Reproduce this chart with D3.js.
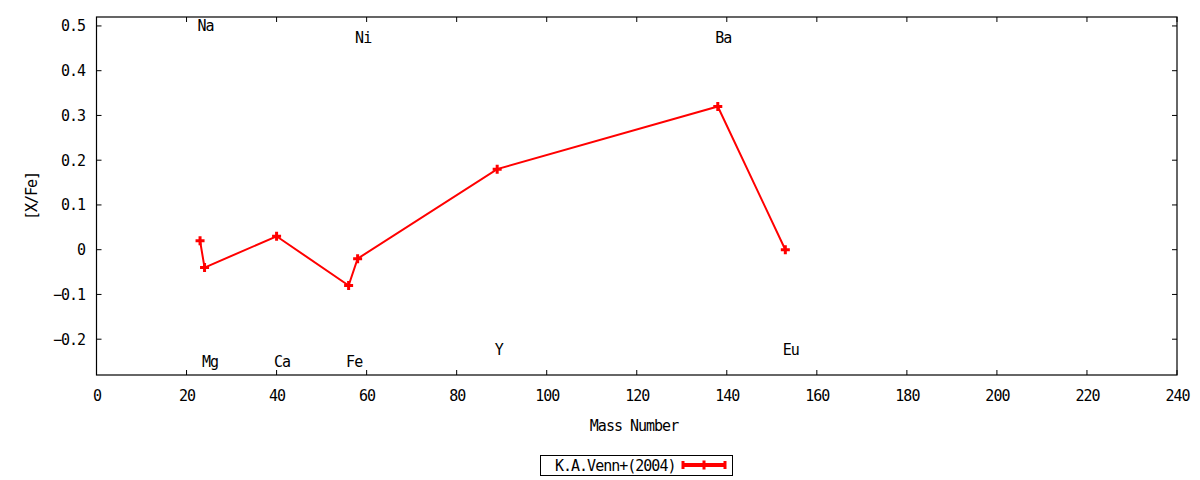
<!DOCTYPE html>
<html><head><meta charset="utf-8">
<script src="https://cdn.jsdelivr.net/npm/d3@7"></script>
<style>
body{margin:0;background:#fff;}
text{font-family:"DejaVu Sans Mono",monospace;font-size:15px;letter-spacing:-1px;fill:#000;}
</style></head>
<body><svg id="c" width="1200" height="480"></svg>
<script>
const elements = ["Na","Mg","Ca","Fe","Ni","Y","Ba","Eu"];
const massNumbers = [23,24,40,56,58,89,138,153];
const xFe = [0.02,-0.04,0.03,-0.08,-0.02,0.18,0.32,0.0];
const labelY = [0.5,-0.25,-0.25,-0.25,0.475,-0.222,0.475,-0.222];
const xTicks = [0,20,40,60,80,100,120,140,160,180,200,220,240];
const yTicks = [-0.2,-0.1,0,0.1,0.2,0.3,0.4,0.5];
const seriesName = "K.A.Venn+(2004)";

const svg = d3.select("#c");
const L=96.5,R=1177,T=17,B=375;
const x = d3.scaleLinear().domain([0,240]).range([L,R]);
const y = d3.scaleLinear().domain([-0.28,0.52]).range([B,T]);
const tl = 5;

svg.append("rect").attr("x",L).attr("y",T).attr("width",R-L).attr("height",B-T)
  .attr("fill","none").attr("stroke","#000").attr("stroke-width",1.2);

const g = svg.append("g");
xTicks.forEach(v=>{
  const px=x(v);
  g.append("line").attr("x1",px).attr("x2",px).attr("y1",B).attr("y2",B-tl).attr("stroke","#000");
  g.append("line").attr("x1",px).attr("x2",px).attr("y1",T).attr("y2",T+tl).attr("stroke","#000");
  g.append("text").attr("x",px+0.5).attr("y",400.5).attr("text-anchor","middle").text(v);
});
const yFmt = v => (Math.abs(v)<1e-9?"0":d3.format(".1f")(v));
yTicks.forEach(v=>{
  const py=y(v);
  g.append("line").attr("x1",L).attr("x2",L+tl).attr("y1",py).attr("y2",py).attr("stroke","#000");
  g.append("line").attr("x1",R).attr("x2",R-tl).attr("y1",py).attr("y2",py).attr("stroke","#000");
  g.append("text").attr("x",85).attr("y",py+5.5).attr("text-anchor","end").text(yFmt(v));
});

svg.append("text").attr("x",634).attr("y",430.5).attr("text-anchor","middle").text("Mass Number");
svg.append("text").attr("transform","translate(37,196) rotate(-90)").attr("text-anchor","middle").text("[X/Fe]");

elements.forEach((e,i)=>{
  svg.append("text").attr("x",x(massNumbers[i])-2.5).attr("y",y(labelY[i])+5.5).text(e);
});

const red="#ff0000";
const pts = massNumbers.map((m,i)=>[m,xFe[i]]);
svg.append("path").datum(pts)
  .attr("d",d3.line().x(d=>x(d[0])).y(d=>y(d[1])))
  .attr("fill","none").attr("stroke",red).attr("stroke-width",2);

const plus = (px,py,s)=>`M${px-s},${py}H${px+s}M${px},${py-s}V${py+s}`;
svg.selectAll(".m").data(pts).enter().append("path")
  .attr("d",d=>plus(x(d[0]),y(d[1]),4.5))
  .attr("stroke",red).attr("stroke-width",3).attr("fill","none");

svg.append("rect").attr("x",540.5).attr("y",455.5).attr("width",192).attr("height",20)
  .attr("fill","none").attr("stroke","#000").attr("stroke-width",1);
svg.append("text").attr("x",555).attr("y",470.5).text(seriesName);
svg.append("line").attr("x1",683).attr("x2",725).attr("y1",465).attr("y2",465).attr("stroke",red).attr("stroke-width",4);
[683,725].forEach(px=>svg.append("line").attr("x1",px).attr("x2",px).attr("y1",461).attr("y2",469).attr("stroke",red).attr("stroke-width",3));
svg.append("path").attr("d",plus(704,465,4.5)).attr("stroke",red).attr("stroke-width",3);
</script></body></html>
